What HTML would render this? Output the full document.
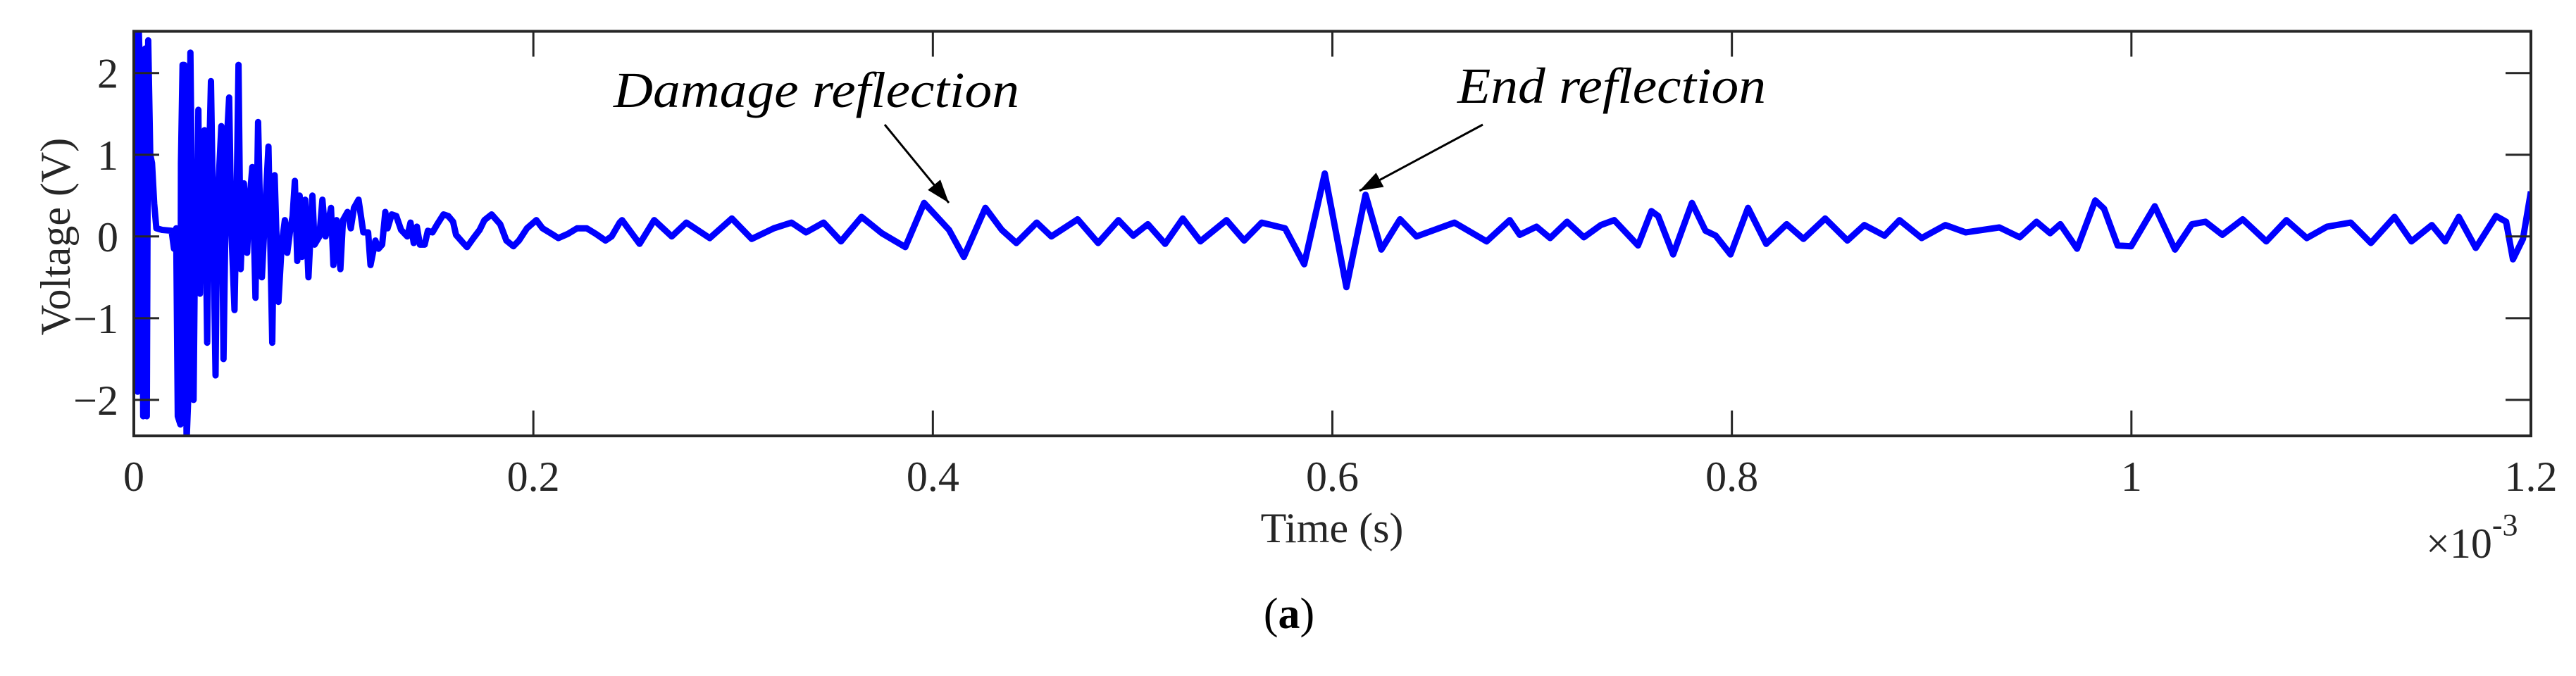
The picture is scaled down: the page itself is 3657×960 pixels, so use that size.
<!DOCTYPE html>
<html><head><meta charset="utf-8"><style>
html,body{margin:0;padding:0;background:#fff;}
svg{display:block;font-family:"Liberation Serif",serif;}
</style></head><body>
<svg id="chart" width="3657" height="960" viewBox="0 0 3657 960" xmlns="http://www.w3.org/2000/svg"></svg>
<script>
// Time values in units of 1e-3 s
const times = [0,.0008,.0019,.0025,.0038,.0047,.0057,.0065,.0072,.0082,.0091,.0102,.0113,.0142,.0189,.0201,.0212,.0220,.0233,.0236,.0244,.0252,.0264,.0275,.0283,.0291,.0299,.0307,.0315,.0323,.0331,.0338,.0346,.0354,.0367,.0375,.0386,.0397,.0409,.0417,.0438,.0449,.0464,.0477,.0488,.0504,.0515,.0524,.0535,.0551,.0567,.0578,.0593,.0609,.0622,.0630,.0641,.0653,.0674,.0693,.0705,.0724,.0740,.0756,.0768,.0784,.0795,.0806,.0818,.0830,.0842,.0858,.0874,.0894,.0905,.0929,.0944,.0960,.0987,.0999,.1015,.1034,.1047,.1070,.1086,.1102,.1125,.1149,.1173,.1185,.1209,.1225,.1243,.1259,.1270,.1291,.1314,.1338,.1369,.1385,.1401,.1417,.1432,.1456,.1472,.1495,.1519,.1550,.1574,.1598,.1613,.1645,.1668,.1700,.1731,.1755,.1791,.1834,.1865,.1900,.1928,.1968,.2015,.2046,.2093,.2125,.2172,.2219,.2267,.2314,.2361,.2392,.2432,
.2444,.2532,.2605,.2693,.2766,.2883,.2994,.3093,.3204,.3292,.3365,.3453,.3540,.3643,.3745,.3862,.3956,.4081,.4155,.4263,.4345,.4418,.4520,.4593,.4725,.4827,.4929,.5003,.5076,.5163,.5251,.5339,.5470,.5558,.5646,.5763,.5859,.5962,.6070,.6166,.6245,.6339,.6421,.6611,.6772,.6888,
.6938,.7022,.7090,.7175,.7259,.7344,.7411,.7530,.7597,.7631,.7706,.7800,.7868,.7919,.7993,.8081,.8172,.8274,.8358,.8467,.8578,.8663,.8764,.8839,.8950,.9069,.9170,.9339,.9441,.9525,.9593,.9644,.9728,.9819,.9863,.9931,.9999,1.0117,1.0218,1.0303,1.0371,1.0455,1.0557,1.0675,1.0776,1.0878,1.0979,1.1098,1.1199,1.1317,1.1402,1.1504,1.1571,1.1639,1.1724,1.1825,1.1876,1.1910,1.1960,1.2000];
// Voltage values (V)
const volts = [0.3,2.5,-1.9,2.5,1.4,-2.2,2.3,-2.2,2.4,1.0,0.9,0.4,0.1,0.08,0.07,-0.15,0.1,-2.2,-2.3,0.9,2.1,2.1,-2.5,-1.8,2.25,0.5,-2.0,0.1,-0.6,1.55,-0.7,0.9,-0.5,1.3,-1.3,0.7,1.9,0.2,-1.7,0.3,1.35,-1.5,1.1,1.7,0.1,-0.9,0.5,2.1,-0.4,0.65,-0.2,0.4,0.85,-0.75,1.4,0.5,-0.5,0.1,1.1,-1.3,0.75,-0.8,-0.1,0.2,-0.2,0.1,0.25,0.68,-0.3,0.5,-0.25,0.45,-0.5,0.5,-0.1,0,0.45,0,0.35,-0.35,0.2,-0.4,0.2,0.3,0.1,0.35,0.45,0.05,0.05,-0.35,-0.05,-0.15,-0.1,0.3,0.1,0.27,0.25,0.08,0.0,0.17,-0.08,0.12,-0.1,-0.1,0.07,0.05,0.15,0.27,0.25,0.18,0.02,-0.07,-0.13,-0.02,0.08,0.2,0.27,0.15,-0.05,-0.12,-0.05,0.1,0.2,0.1,0.03,-0.02,0.03,0.1,0.1,0.03,-0.05,0,0.17,
0.2,-0.09,0.2,0.0,0.17,-0.02,0.22,-0.03,0.1,0.17,0.05,0.17,-0.06,0.24,0.04,-0.13,0.41,0.08,-0.25,0.35,0.08,-0.08,0.17,0.0,0.21,-0.08,0.2,0.01,0.15,-0.09,0.22,-0.06,0.2,-0.05,0.17,0.1,-0.34,0.77,-0.62,0.51,-0.16,0.21,0.0,0.17,-0.06,0.2,
0.02,0.12,-0.02,0.18,-0.01,0.14,0.2,-0.11,0.31,0.25,-0.22,0.41,0.07,0.01,-0.22,0.35,-0.09,0.15,-0.03,0.22,-0.05,0.14,0.01,0.2,-0.02,0.14,0.05,0.11,-0.01,0.18,0.04,0.15,-0.15,0.44,0.34,-0.11,-0.12,0.37,-0.16,0.15,0.18,0.02,0.21,-0.06,0.2,-0.02,0.12,0.17,-0.08,0.24,-0.06,0.14,-0.06,0.24,-0.14,0.25,0.18,-0.28,-0.03,0.55];
const xTicks = [0,0.2,0.4,0.6,0.8,1,1.2];
const xTickLabels = ["0","0.2","0.4","0.6","0.8","1","1.2"];
const yTicks = [-2,-1,0,1,2];
const yTickLabels = ["\u22122","\u22121","0","1","2"];

const NS = "http://www.w3.org/2000/svg";
const svg = document.getElementById('chart');
const L = 190, R = 3593, T = 44.5, B = 619;
const xMin = 0, xMax = 1.2, yMin = -2.44, yMax = 2.51;
function xs(t){ return L + (t - xMin) / (xMax - xMin) * (R - L); }
function ys(v){ return B - (v - yMin) / (yMax - yMin) * (B - T); }
function mk(tag, attrs, parent){
  const e = document.createElementNS(NS, tag);
  for (const k in attrs) e.setAttribute(k, attrs[k]);
  (parent || svg).appendChild(e);
  return e;
}
const defs = mk('defs', {});
const cp = mk('clipPath', {id: 'plotclip'}, defs);
mk('rect', {x: L, y: T, width: R - L, height: B - T}, cp);
const mkr = mk('marker', {id: 'ah', viewBox: '0 0 10 10', refX: '10', refY: '5', markerWidth: '11', markerHeight: '11', orient: 'auto', markerUnits: 'strokeWidth'}, defs);
mk('path', {d: 'M0,1.5 L10,5 L0,8.5 z', fill: '#000'}, mkr);

// series
let d = '';
for (let i = 0; i < times.length; i++) d += (i ? 'L' : 'M') + xs(times[i]).toFixed(1) + ',' + ys(volts[i]).toFixed(1);
const line = mk('path', {d: d, fill: 'none', stroke: '#0000ff', 'stroke-width': 9, 'stroke-linejoin': 'round', 'clip-path': 'url(#plotclip)'});



// axes box
const box = mk('rect', {x: L, y: T, width: R - L, height: B - T, fill: 'none', stroke: '#262626', 'stroke-width': 4});



// x ticks
xTicks.forEach((t, i) => {
  const x = xs(t);
  const tk = mk('path', {d: `M${x},${B}V${B-36}M${x},${T}V${T+36}`, stroke: '#262626', 'stroke-width': 3});
  
  
  const lb = mk('text', {x: x, y: 697, 'font-size': 60, 'text-anchor': 'middle', fill: '#262626'});
  lb.textContent = xTickLabels[i];
  
  
});
// y ticks
yTicks.forEach((v, i) => {
  const y = ys(v);
  const tk = mk('path', {d: `M${L},${y}H${L+36}M${R},${y}H${R-36}`, stroke: '#262626', 'stroke-width': 3});
  
  
  const lb = mk('text', {x: 168, y: y + 21, 'font-size': 60, 'text-anchor': 'end', fill: '#262626'});
  lb.textContent = yTickLabels[i];
  
  
});
</script>
<script>
(function(){
const svg = document.getElementById('chart');
svg.insertAdjacentHTML('beforeend', `
<text x="1891" y="770" font-size="60" text-anchor="middle" fill="#262626">Time (s)</text>
<text transform="translate(99,336) rotate(-90)" font-size="60" text-anchor="middle" fill="#262626">Voltage (V)</text>
<text x="3444" y="792" font-size="60" fill="#262626">×10<tspan font-size="44" dy="-32">-3</tspan></text>
<text x="871" y="152" font-size="72" font-style="italic" fill="#000" textLength="576" lengthAdjust="spacingAndGlyphs">Damage reflection</text>
<line x1="1256" y1="177" x2="1347" y2="288" stroke="#000" stroke-width="3" marker-end="url(#ah)"/>
<text x="2069" y="146" font-size="72" font-style="italic" fill="#000" textLength="438" lengthAdjust="spacingAndGlyphs">End reflection</text>
<line x1="2105" y1="177" x2="1930" y2="271" stroke="#000" stroke-width="3" marker-end="url(#ah)"/>
<text x="1830" y="892" font-size="62" text-anchor="middle" fill="#000">(<tspan font-weight="bold">a</tspan>)</text>
`);
})();
</script>
</body></html>
